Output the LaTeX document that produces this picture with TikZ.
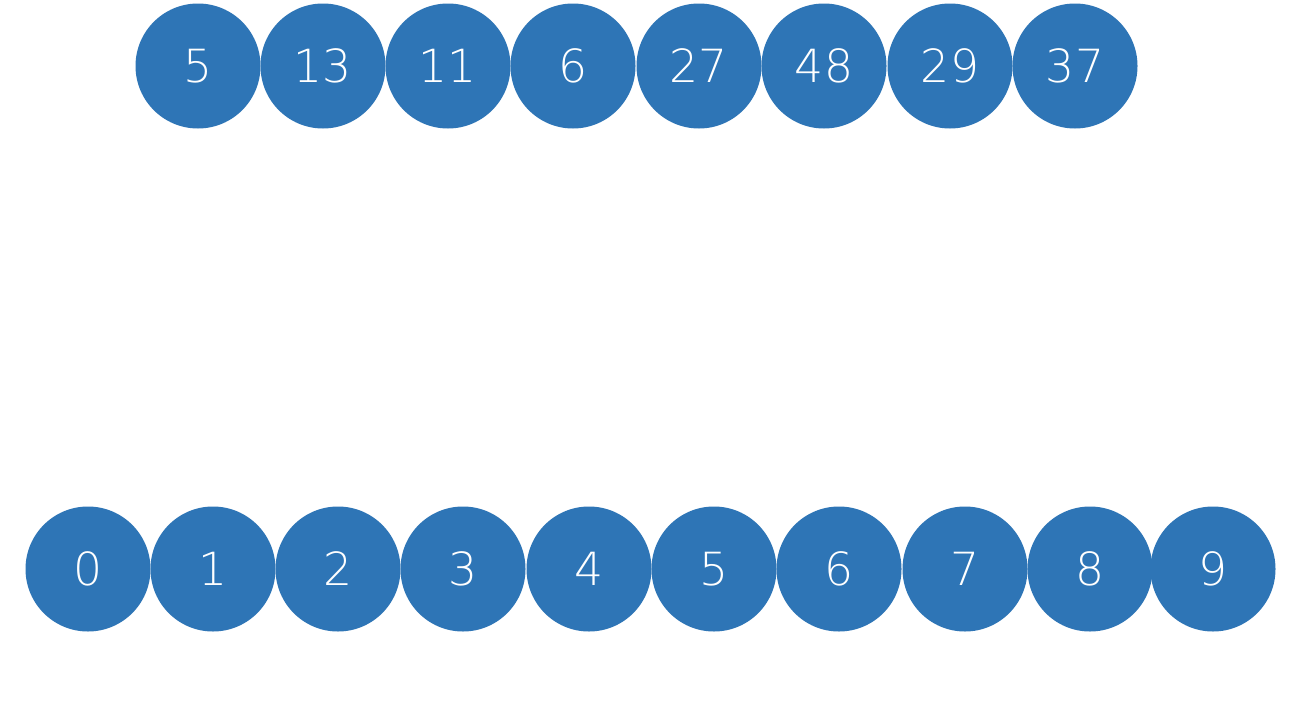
\documentclass[tikz,border=0pt]{standalone}
\usepackage{fontspec}
\setmainfont{DejaVu Sans ExtraLight}
\definecolor{ballblue}{RGB}{46,117,182}
\tikzset{ball/.style={circle, fill=ballblue, draw=none, minimum size=2.5cm, inner sep=0pt, text=white, font=\fontsize{26}{30}\selectfont}}
\begin{document}
\begin{tikzpicture}
\useasboundingbox [fill=white] (0,0) rectangle (25.78,14.1);
% values
\node[ball] (v1) at (3.96,12.78) {5};
\node[ball] (v2) at (6.46,12.78) {13};
\node[ball] (v3) at (8.96,12.78) {11};
\node[ball] (v4) at (11.46,12.78) {6};
\node[ball] (v5) at (13.98,12.78) {27};
\node[ball] (v6) at (16.48,12.78) {48};
\node[ball] (v7) at (19.0,12.78) {29};
\node[ball] (v8) at (21.5,12.78) {37};
% buckets
\node[ball] (b0) at (1.76,2.72) {0};
\node[ball] (b1) at (4.26,2.72) {1};
\node[ball] (b2) at (6.76,2.72) {2};
\node[ball] (b3) at (9.26,2.72) {3};
\node[ball] (b4) at (11.78,2.72) {4};
\node[ball] (b5) at (14.28,2.72) {5};
\node[ball] (b6) at (16.78,2.72) {6};
\node[ball] (b7) at (19.3,2.72) {7};
\node[ball] (b8) at (21.8,2.72) {8};
\node[ball] (b9) at (24.26,2.72) {9};
\end{tikzpicture}
\end{document}
